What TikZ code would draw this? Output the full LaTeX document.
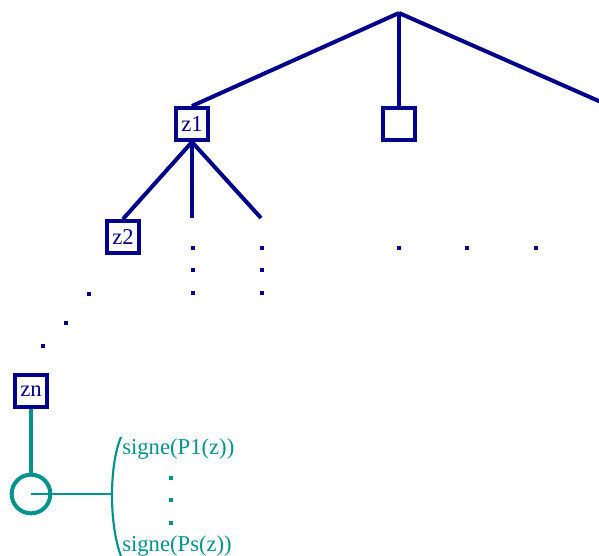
\documentclass[tikz,border=0pt]{standalone}
\usepackage{fontspec}
\setmainfont{Liberation Serif}
\usetikzlibrary{positioning}
\definecolor{treeblue}{RGB}{0,0,140}
\definecolor{signteal}{RGB}{0,146,140}
\tikzset{
	zbox/.style={draw=treeblue, line width=3pt, fill=white, minimum size=24pt, inner sep=1pt, text=treeblue, font=\fontsize{17}{20}\selectfont},
	branch/.style={draw=treeblue, line width=3pt},
	dotmark/.style={fill=treeblue, minimum size=3pt, inner sep=0pt},
	tealdot/.style={fill=signteal, minimum size=3pt, inner sep=0pt},
	signtext/.style={text=signteal, anchor=west, inner sep=0pt, font=\fontsize{17}{20}\selectfont}
}

\begin{document}
\begin{tikzpicture}[x=0.75pt, y=-0.75pt]
		%%%%% START %%%%%
		\useasboundingbox (0, 0) rectangle (599, 556);
		
		\coordinate (root) at (399, 13);
		\coordinate (farright) at (601, 102);
		\node[zbox] (z1) at (192, 124) {z1};
		\node[zbox] (blank) at (399, 124) {};
		\node[zbox] (z2) at (123, 237) {z2};
		\node[zbox] (zn) at (31, 391) {zn};
		
		\draw[branch] (root) -- (z1.north);
		\draw[branch] (root) -- (blank.north);
		\draw[branch] (root) -- (farright);
		
		\coordinate (mid) at (192, 218);
		\coordinate (right) at (261, 218);
		\draw[branch] (z1.south) -- (z2.north);
		\draw[branch] (z1.south) -- (mid);
		\draw[branch] (z1.south) -- (right);
		
		% the dots
		\foreach \y in {248, 270, 293} {
			\node[dotmark] at (193, \y) {};
			\node[dotmark] at (262, \y) {};
		}
		\foreach \x in {399, 467, 536}
			\node[dotmark] at (\x, 248) {};
		\node[dotmark] at (89, 294) {};
		\node[dotmark] at (66, 323) {};
		\node[dotmark] at (43, 346) {};
		
		% the leaf
		\node[draw=signteal, line width=3pt, circle, minimum size=29pt, inner sep=0pt] (leaf) at (31, 494) {};
		\draw[signteal, line width=3pt] (zn.south) -- (leaf.north);
		\coordinate (brace) at (111, 494);
		\draw[signteal, line width=1.6pt] (leaf.center) -- (brace);
		\draw[signteal, line width=1.6pt] (121, 437) .. controls (109, 465) and (109, 525) .. (121, 556);
		
		\node[signtext] (sfirst) at (122, 449) {signe(P1(z))};
		\node[signtext] (slast) at (122, 546) {signe(Ps(z))};
		\foreach \y in {478, 500, 523}
			\node[tealdot] at (171, \y) {};
		
		%%%%% END %%%%%
	\end{tikzpicture}
\end{document}
